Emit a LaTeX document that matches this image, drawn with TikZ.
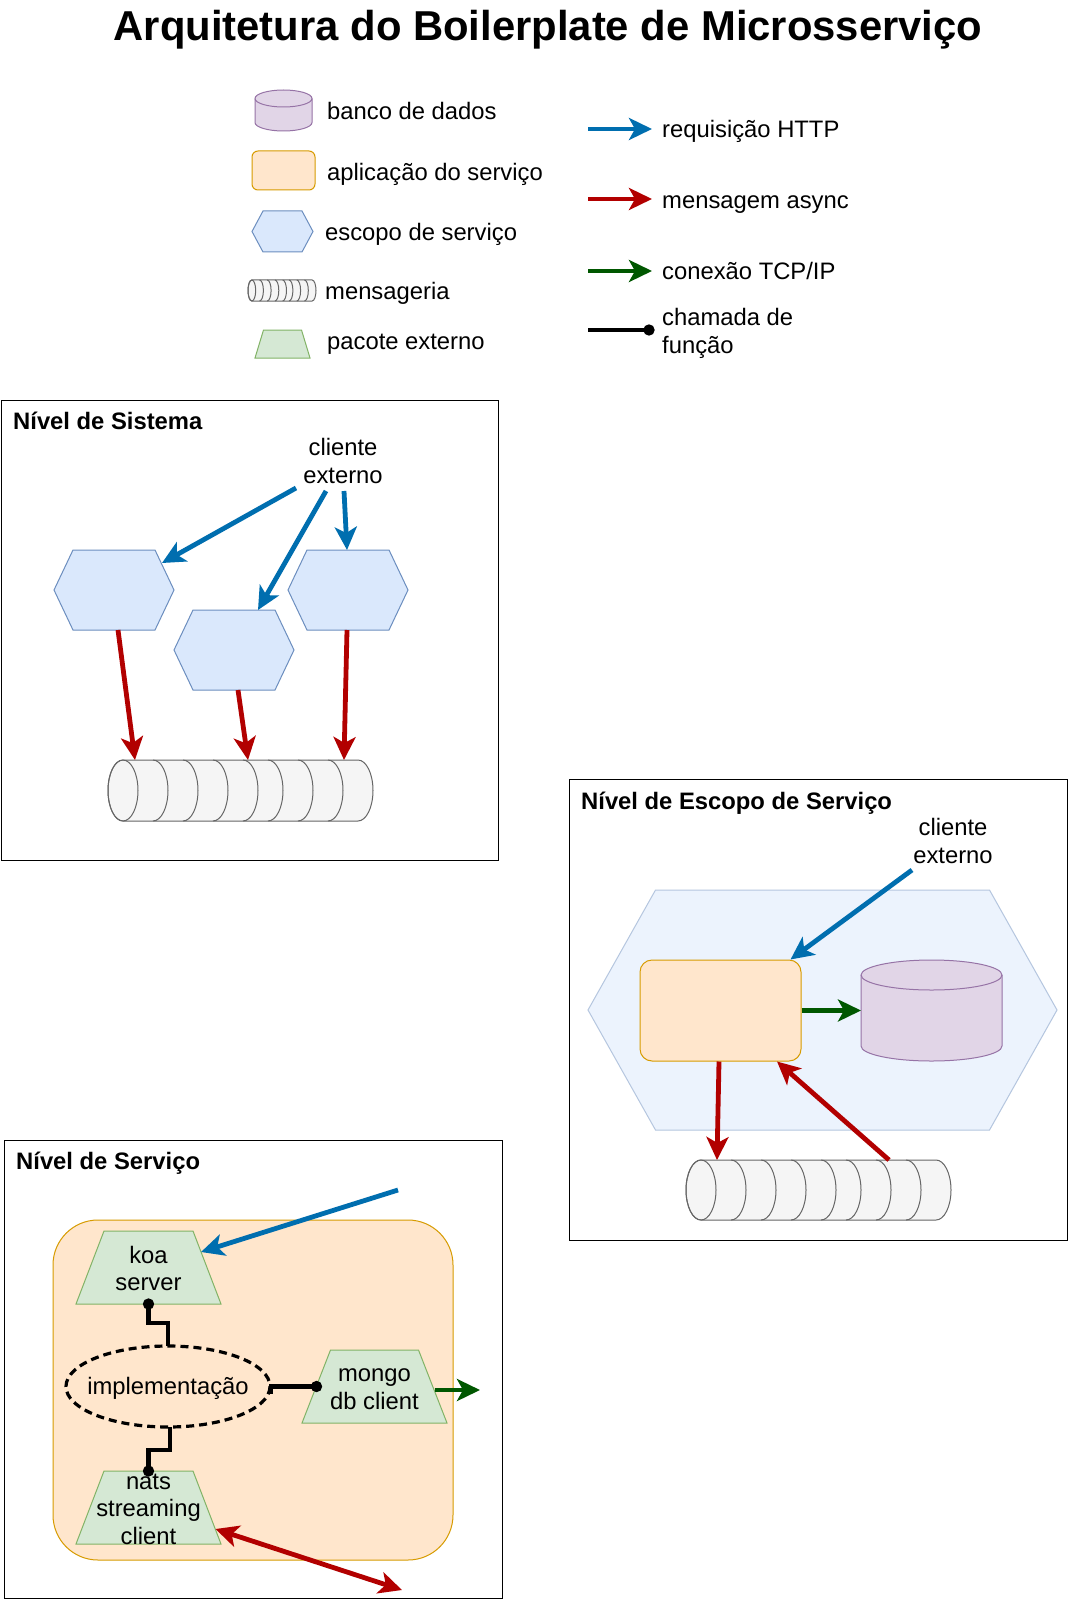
\documentclass[tikz,border=0pt]{standalone}
\usepackage{fontspec}
\setmainfont{Liberation Sans}
\usetikzlibrary{arrows.meta,calc}
\definecolor{httpblue}{HTML}{006EAF}
\definecolor{asyncred}{HTML}{B20000}
\definecolor{tcpgreen}{HTML}{005700}
\definecolor{hexfill}{HTML}{DAE8FC}
\definecolor{hexline}{HTML}{6C8EBF}
\definecolor{hexfillL}{HTML}{ECF3FD}
\definecolor{hexlineL}{HTML}{B5C6DF}
\definecolor{appfill}{HTML}{FFE6CC}
\definecolor{appline}{HTML}{D79B00}
\definecolor{dbfill}{HTML}{E1D5E7}
\definecolor{dbline}{HTML}{9673A6}
\definecolor{pkgfill}{HTML}{D5E8D4}
\definecolor{pkgline}{HTML}{82B366}
\definecolor{qfill}{HTML}{F5F5F5}
\definecolor{qline}{HTML}{666666}

\newcommand\hexpath[3]{%
  \path[#3] (#1.west) -- ([shift={(#2,0)}]#1.north west) -- ([shift={(-#2,0)}]#1.north east)
    -- (#1.east) -- ([shift={(-#2,0)}]#1.south east) -- ([shift={(#2,0)}]#1.south west) -- cycle;}
\newcommand\trappath[3]{%
  \path[#3] ([shift={(#2,0)}]#1.north west) -- ([shift={(-#2,0)}]#1.north east)
    -- (#1.south east) -- (#1.south west) -- cycle;}
\newcommand\dbcyl[4]{%
  \begin{scope}[shift={(#1.center)}]
    \path[db] (-#2,{-#3+#4}) -- (-#2,{#3-#4}) arc[start angle=180,end angle=0,x radius=#2,y radius=#4]
      -- (#2,{-#3+#4}) arc[start angle=0,end angle=-180,x radius=#2,y radius=#4] -- cycle;
    \path[dbedge] (-#2,{-#3+#4}) arc[start angle=180,end angle=0,x radius=#2,y radius=#4];
  \end{scope}}
\newcommand\queuepath[3]{%
  \begin{scope}[shift={(#1.west)},xscale=#2,yscale=#3]
    \path[queue] (15,-30.5) -- (250,-30.5) arc[start angle=-90,end angle=90,x radius=15,y radius=30.5]
      -- (15,30.5) arc[start angle=90,end angle=270,x radius=15,y radius=30.5] -- cycle;
    \draw[qedge] (15,0) ellipse[x radius=15,y radius=30.5];
    \foreach \c in {45,75,105,135,160,190,220}{%
      \draw[qedge] (\c,-30.5) arc[start angle=-90,end angle=90,x radius=15,y radius=30.5];}
  \end{scope}}

\tikzset{
  inv/.style={inner sep=0pt, outer sep=0pt, draw=none},
  frame/.style={draw=black, line width=1.3pt, inner sep=0pt, anchor=north west},
  lbl/.style={font=\fontsize{23.8}{27.5}\selectfont, inner sep=0pt},
  lblw/.style={lbl, anchor=base west},
  ttl/.style={font=\bfseries\fontsize{23.8}{27.5}\selectfont, inner sep=0pt, anchor=base west},
  hex/.style={fill=hexfill, draw=hexline, line width=1pt},
  hexL/.style={fill=hexfillL, draw=hexlineL, line width=1pt},
  app/.style={fill=appfill, draw=appline, line width=1pt, inner sep=0pt},
  db/.style={fill=dbfill, draw=dbline, line width=1pt},
  dbedge/.style={draw=dbline, line width=1pt},
  pkg/.style={fill=pkgfill, draw=pkgline, line width=1pt},
  queue/.style={fill=qfill, draw=qline, line width=1pt},
  qedge/.style={draw=qline, line width=1pt},
  tipS/.tip={Stealth[length=23pt,width=22pt,inset=6pt]},
  flow/.style={line width=4.8pt, -tipS},
  http/.style={flow, draw=httpblue},
  async/.style={flow, draw=asyncred},
  asyncboth/.style={line width=4.8pt, tipS-tipS, draw=asyncred},
  tcp/.style={flow, draw=tcpgreen},
  call/.style={line width=4.8pt, draw=black, -{Circle[length=11pt]}, shorten >=-5.5pt},
}

\begin{document}
\begin{tikzpicture}[x=1pt,y=-1pt]
\useasboundingbox[fill=white] (0,0) rectangle (1068,1602);

% title
\node[font=\bfseries\fontsize{41.8}{50}\selectfont, inner sep=0pt, anchor=base] (title) at (548,41)
  {Arquitetura do Boilerplate de Microsserviço};

% ---------- legend (shapes)
\node[inv, minimum width=57pt, minimum height=41pt] (ldb) at (283.5,110.5) {};
\dbcyl{ldb}{28.5}{20.5}{8.5}
\node[lblw] (ldbt) at (327,120) {banco de dados};

\node[app, rounded corners=6pt, minimum width=63pt, minimum height=39pt] (lapp) at (283.5,170.5) {};
\node[lblw] (lappt) at (327,181) {aplicação do serviço};

\node[inv, minimum width=61pt, minimum height=41pt] (lhex) at (282.5,231.5) {};
\hexpath{lhex}{11}{hex}
\node[lblw] (lhext) at (325,241) {escopo de serviço};

\node[inv, minimum width=68pt, minimum height=21pt] (lq) at (282,290.5) {};
\queuepath{lq}{0.2566}{0.3443}
\node[lblw] (lqt) at (325,300) {mensageria};

\node[inv, minimum width=55pt, minimum height=28pt] (lpkg) at (282.5,344) {};
\trappath{lpkg}{8.5}{pkg}
\node[lblw] (lpkgt) at (327,349.5) {pacote externo};

% ---------- legend (connectors)
\coordinate (la1) at (588,129); \coordinate (lb1) at (652,129);
\draw[http] (la1) -- (lb1);
\node[lblw] (lt1) at (662,138) {requisição HTTP};
\coordinate (la2) at (588,199); \coordinate (lb2) at (652,199);
\draw[async] (la2) -- (lb2);
\node[lblw] (lt2) at (662,209) {mensagem async};
\coordinate (la3) at (588,271); \coordinate (lb3) at (652,271);
\draw[tcp] (la3) -- (lb3);
\node[lblw] (lt3) at (662,280) {conexão TCP/IP};
\coordinate (la4) at (588,330); \coordinate (lb4) at (649,330);
\draw[call] (la4) -- (lb4);
\node[lbl, anchor=west, align=left] (lt4) at (662,333.5) {chamada de\\função};

% ---------- Nível de Sistema
\node[frame, minimum width=497pt, minimum height=460pt] (sysbox) at (0.75,400) {};
\node[ttl] (systtl) at (13,429) {Nível de Sistema};
\node[lbl, align=center] (cli1) at (343,461) {cliente\\externo};

\node[inv, minimum width=120pt, minimum height=80pt] (h1) at (114,590) {};
\hexpath{h1}{19}{hex}
\node[inv, minimum width=120pt, minimum height=80pt] (h2) at (234,650) {};
\hexpath{h2}{19}{hex}
\node[inv, minimum width=120pt, minimum height=80pt] (h3) at (348,590) {};
\hexpath{h3}{19}{hex}

\node[inv, minimum width=265pt, minimum height=61pt] (sysq) at (240.5,790.5) {};
\queuepath{sysq}{1}{1}

\draw[http] ([shift={(-47,27)}]cli1.center) -- ([shift={(48,-27)}]h1.center);
\draw[http] ([shift={(-17,30)}]cli1.center) -- ([shift={(24,-40)}]h2.center);
\draw[http] ([shift={(1,30)}]cli1.center) -- ([shift={(-1,-40)}]h3.center);
\draw[async] ([shift={(4,40)}]h1.center) -- ([shift={(-105.5,0)}]sysq.north);
\draw[async] ([shift={(4,40)}]h2.center) -- ([shift={(7.5,0)}]sysq.north);
\draw[async] ([shift={(-1,40)}]h3.center) -- ([shift={(103.5,0)}]sysq.north);

% ---------- Nível de Escopo de Serviço
\node[frame, minimum width=497.5pt, minimum height=461pt] (scbox) at (569,779) {};
\node[ttl] (sctl) at (581,809) {Nível de Escopo de Serviço};
\node[lbl, align=center] (cli2) at (953,841) {cliente\\externo};

\node[inv, minimum width=469pt, minimum height=240pt] (bighex) at (822.5,1010) {};
\hexpath{bighex}{67.5}{hexL}
\node[app, rounded corners=12pt, minimum width=161pt, minimum height=101pt] (sapp) at (720.5,1010.5) {};
\node[inv, minimum width=141pt, minimum height=101pt] (sdb) at (931.5,1010.5) {};
\dbcyl{sdb}{70.5}{50.5}{15}
\node[inv, minimum width=265pt, minimum height=60pt] (scq) at (818.5,1190) {};
\queuepath{scq}{1}{0.984}

\draw[http] ([shift={(-41,29)}]cli2.center) -- ([shift={(-11,0)}]sapp.north east);
\draw[tcp] (sapp.east) -- (sdb.west);
\draw[async] ([shift={(-1.5,0)}]sapp.south) -- ([shift={(-101.5,0)}]scq.north);
\draw[async] ([shift={(70.5,0)}]scq.north) -- ([shift={(56.5,0)}]sapp.south);

% ---------- Nível de Serviço
\node[frame, minimum width=498pt, minimum height=458pt] (svbox) at (4,1140) {};
\node[ttl] (svtl) at (16,1169) {Nível de Serviço};
\node[app, rounded corners=45pt, minimum width=400pt, minimum height=340pt] (svapp) at (253,1390) {};

\node[inv, minimum width=145pt, minimum height=73pt] (koa) at (148.5,1267.5) {};
\trappath{koa}{28}{pkg}
\node[lbl, align=center] (koat) at ([shift={(0,1)}]koa.center) {koa\\server};

\node[inv, minimum width=145pt, minimum height=73pt] (mongo) at (374.5,1386.5) {};
\trappath{mongo}{28.5}{pkg}
\node[lbl, align=center] (mongot) at ([shift={(0,2.5)}]mongo.center) {mongo\\db client};

\node[inv, minimum width=145pt, minimum height=73pt] (nats) at (148.5,1507.5) {};
\trappath{nats}{28}{pkg}

\node[lbl, inv, minimum width=204pt, minimum height=81pt] (impl) at (168,1386.5) {};
\draw[line width=3.2pt, dash pattern=on 8pt off 5pt] (impl.center) ellipse[x radius=102, y radius=40.5];
\node[lbl] (implt) at ([shift={(0,2)}]impl.center) {implementação};

\draw[call] (impl.north) -- ++(0,-23) -| (koa.south);
\draw[call] ([shift={(2,0)}]impl.south) -- ++(0,23) -| (nats.north);
\draw[call] ([shift={(1,7)}]impl.east) -- ++(0,-7) -- ([shift={(14.5,0)}]mongo.west);

\node[lbl, align=center] (natst) at ([shift={(0,1.5)}]nats.center) {nats\\streaming\\client};

\coordinate (httpsrc) at (398,1190);
\draw[http] (httpsrc) -- ([shift={(52.5,-15.5)}]koa.center);
\coordinate (natsdst) at (402,1590);
\draw[asyncboth] ([shift={(67,21.5)}]nats.center) -- (natsdst);
\coordinate (tcpdst) at (480,1390);
\draw[tcp] ([shift={(60,3.5)}]mongo.center) -- (tcpdst);
\end{tikzpicture}
\end{document}
